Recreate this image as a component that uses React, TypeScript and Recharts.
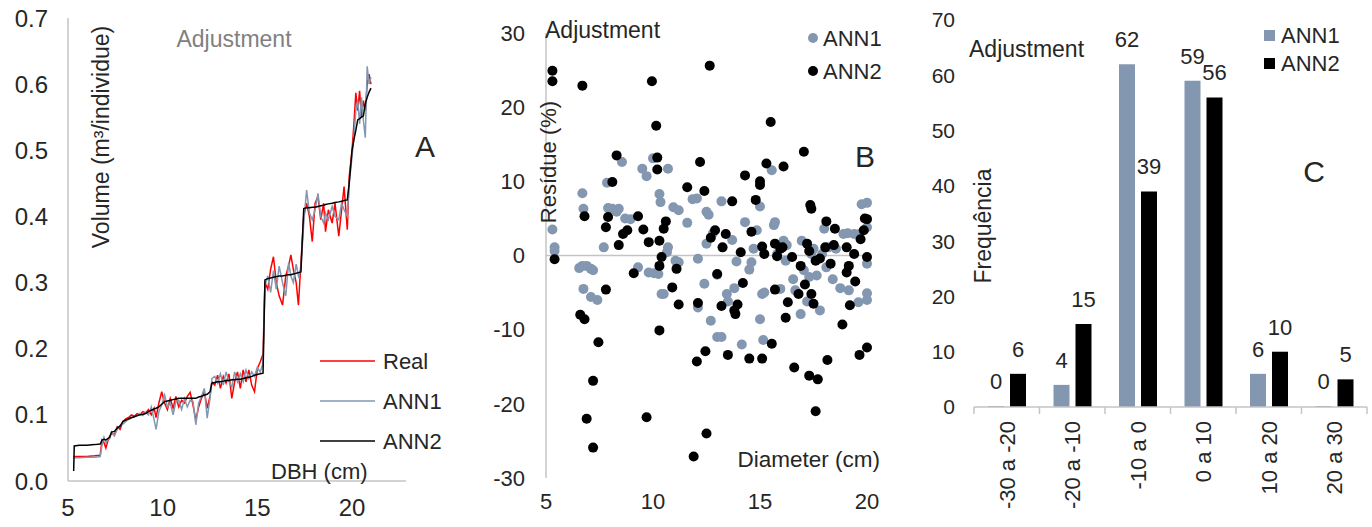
import React from 'react';
import {
  LineChart, Line, XAxis, YAxis, ScatterChart, Scatter, BarChart, Bar,
  LabelList, ReferenceLine, Legend,
} from 'recharts';

const FONT = '"Liberation Sans", Arial, sans-serif';
const GRAY = '#8497B0';
const AXIS = '#C4C4C4';
const TEXT = '#262626';

// ---------- Panel A: volume vs DBH ----------
const dbh = [5.3, 5.33, 5.6, 6.0, 6.4, 6.7, 6.8, 6.9, 7.0, 7.1, 7.2, 7.3, 7.45, 7.6, 7.75, 7.9, 8.05, 8.2, 8.35, 8.5, 8.65, 8.8, 8.95, 9.1, 9.25, 9.4, 9.55, 9.65, 9.8, 9.95, 10.1, 10.25, 10.4, 10.55, 10.7, 10.85, 11.0, 11.15, 11.3, 11.45, 11.6, 11.75, 11.9, 12.05, 12.2, 12.35, 12.5, 12.6, 12.75, 12.9, 13.05, 13.2, 13.35, 13.5, 13.65, 13.8, 13.95, 14.1, 14.25, 14.4, 14.55, 14.7, 14.85, 15.0, 15.15, 15.3, 15.4, 15.55, 15.7, 15.85, 16.0, 16.15, 16.33, 16.5, 16.65, 16.77, 16.9, 17.05, 17.17, 17.3, 17.45, 17.6, 17.75, 17.9, 18.05, 18.2, 18.35, 18.5, 18.6, 18.75, 18.95, 19.1, 19.3, 19.45, 19.58, 19.75, 19.85, 20.0, 20.1, 20.2, 20.3, 20.4, 20.5, 20.6, 20.7, 20.8, 20.9, 21.0];
const volReal = [0.036, 0.037, 0.037, 0.037, 0.038, 0.039, 0.062, 0.058, 0.050, 0.060, 0.068, 0.072, 0.070, 0.082, 0.078, 0.090, 0.094, 0.096, 0.100, 0.098, 0.102, 0.100, 0.105, 0.103, 0.108, 0.100, 0.110, 0.096, 0.118, 0.135, 0.118, 0.108, 0.125, 0.110, 0.128, 0.112, 0.122, 0.118, 0.128, 0.134, 0.115, 0.092, 0.112, 0.125, 0.135, 0.110, 0.128, 0.150, 0.145, 0.160, 0.140, 0.158, 0.148, 0.162, 0.125, 0.150, 0.165, 0.140, 0.168, 0.150, 0.168, 0.145, 0.135, 0.170, 0.180, 0.192, 0.300, 0.290, 0.320, 0.339, 0.300, 0.280, 0.266, 0.310, 0.325, 0.342, 0.320, 0.300, 0.266, 0.330, 0.400, 0.420, 0.400, 0.362, 0.420, 0.430, 0.395, 0.420, 0.377, 0.410, 0.390, 0.420, 0.370, 0.410, 0.445, 0.380, 0.460, 0.500, 0.540, 0.587, 0.560, 0.590, 0.550, 0.575, 0.560, 0.600, 0.615, 0.600];
const volAnn1 = [0.034, 0.035, 0.035, 0.036, 0.036, 0.037, 0.055, 0.066, 0.058, 0.062, 0.064, 0.074, 0.068, 0.078, 0.084, 0.086, 0.090, 0.093, 0.095, 0.097, 0.098, 0.102, 0.099, 0.104, 0.100, 0.112, 0.092, 0.078, 0.105, 0.115, 0.130, 0.112, 0.118, 0.100, 0.120, 0.122, 0.108, 0.125, 0.112, 0.122, 0.120, 0.085, 0.118, 0.128, 0.140, 0.095, 0.125, 0.155, 0.158, 0.148, 0.162, 0.145, 0.165, 0.150, 0.142, 0.165, 0.150, 0.162, 0.150, 0.168, 0.155, 0.165, 0.158, 0.172, 0.165, 0.178, 0.295, 0.310, 0.285, 0.318, 0.290, 0.325, 0.300, 0.280, 0.330, 0.310, 0.300, 0.328, 0.310, 0.320, 0.390, 0.440, 0.405, 0.395, 0.410, 0.435, 0.400, 0.390, 0.405, 0.395, 0.415, 0.400, 0.395, 0.420, 0.410, 0.400, 0.450, 0.490, 0.520, 0.560, 0.575, 0.540, 0.580, 0.545, 0.519, 0.627, 0.600, 0.610];
const volAnn2 = [0.015, 0.053, 0.054, 0.054, 0.055, 0.056, 0.062, 0.063, 0.062, 0.064, 0.066, 0.074, 0.075, 0.080, 0.083, 0.090, 0.092, 0.094, 0.096, 0.097, 0.099, 0.100, 0.101, 0.102, 0.105, 0.107, 0.109, 0.110, 0.112, 0.116, 0.120, 0.121, 0.122, 0.123, 0.124, 0.125, 0.125, 0.125, 0.125, 0.125, 0.125, 0.125, 0.127, 0.128, 0.130, 0.131, 0.135, 0.148, 0.149, 0.150, 0.150, 0.151, 0.152, 0.152, 0.153, 0.153, 0.154, 0.154, 0.155, 0.156, 0.157, 0.158, 0.160, 0.161, 0.162, 0.163, 0.304, 0.306, 0.307, 0.308, 0.309, 0.310, 0.310, 0.311, 0.312, 0.312, 0.313, 0.314, 0.315, 0.316, 0.412, 0.413, 0.413, 0.414, 0.414, 0.415, 0.416, 0.417, 0.418, 0.419, 0.420, 0.421, 0.422, 0.423, 0.424, 0.425, 0.450, 0.500, 0.516, 0.530, 0.546, 0.548, 0.550, 0.552, 0.570, 0.580, 0.588, 0.594];
const volumeTicks = [0, 0.1, 0.2, 0.3, 0.4, 0.5, 0.6, 0.7];
const dbhTicks = [5, 10, 15, 20];
const volumeSeries = [
  { key: 'real', name: 'Real', color: '#FF0000' },
  { key: 'ann1', name: 'ANN1', color: GRAY },
  { key: 'ann2', name: 'ANN2', color: '#000000' },
];

// ---------- Panel B: residues ----------
const ann1Residues = [[5.3, 3.5], [5.4, 1.1], [5.4, 0.6], [6.7, 8.4], [6.75, 6.3], [6.55, -1.7], [6.7, -1.4], [6.9, -1.4], [7.1, -1.8], [7.2, -2.0], [6.75, -4.5], [7.1, -5.6], [7.4, -6.0], [7.7, 1.1], [7.85, 9.8], [7.9, 6.4], [8.1, 6.3], [8.3, 5.9], [8.4, 6.3], [8.55, 12.6], [8.7, 5.0], [8.95, 4.9], [9.3, -1.6], [9.5, 11.7], [9.7, 10.7], [9.8, -2.3], [10.0, 13.1], [10.05, -2.4], [10.25, -2.5], [10.3, 8.3], [10.35, 7.2], [10.4, -5.2], [10.5, -5.2], [10.65, 0.45], [10.7, 1.1], [10.7, 11.7], [10.95, 6.5], [11.2, 6.1], [11.05, -0.7], [11.2, -0.9], [11.6, 4.4], [11.85, 7.6], [12.05, 7.7], [12.1, -0.45], [12.1, -7.0], [12.4, -3.8], [12.5, 5.9], [12.6, 5.5], [12.5, 1.6], [12.7, -8.8], [12.8, 3.0], [13.0, -2.6], [13.0, -11.0], [13.2, -11.0], [13.2, 7.3], [13.45, -5.2], [13.5, -6.2], [13.7, 2.1], [13.8, -4.4], [13.9, -0.8], [14.15, -12.0], [14.3, 4.5], [14.5, -1.9], [14.6, -0.9], [14.7, 0.9], [14.85, 3.4], [15.0, 6.6], [15.0, -8.6], [15.1, -5.2], [15.15, -11.4], [15.2, -5.0], [15.55, 11.5], [15.65, 4.1], [15.7, 4.5], [15.8, 0.2], [15.95, -4.5], [16.1, 2.0], [16.2, -0.7], [16.25, 1.4], [16.55, -3.2], [16.65, -4.7], [16.9, -7.9], [16.95, 2.0], [17.05, -2.0], [17.2, -6.2], [17.3, -2.9], [17.4, 0.2], [17.5, 0.9], [17.65, -2.7], [17.8, -7.4], [17.9, 0.2], [18.0, 3.6], [18.1, -1.6], [18.2, 1.1], [18.4, -3.2], [18.55, 0.9], [18.75, -4.4], [18.9, 2.9], [19.1, 3.0], [19.15, -4.7], [19.4, 2.9], [19.6, -6.3], [19.65, 2.9], [19.75, 6.9], [20.0, 7.1], [20.0, -5.1], [20.0, -6.0], [20.0, -1.1], [20.0, 3.8]];
const ann2Residues = [[5.3, 24.9], [5.3, 23.5], [5.4, -0.5], [6.7, 22.9], [6.8, 5.3], [6.6, -8.0], [6.8, -8.6], [6.9, -22.0], [7.2, -25.9], [7.2, -16.9], [7.45, -11.7], [7.8, -4.6], [7.8, 3.8], [7.9, 5.2], [8.1, 9.9], [8.3, 13.5], [8.4, 1.4], [8.6, 2.9], [8.8, 3.4], [9.1, -2.4], [9.3, 5.3], [9.55, 3.5], [9.8, 1.8], [9.95, 23.5], [9.7, -21.8], [10.15, 17.5], [10.2, 13.2], [10.2, 11.6], [10.3, 2.0], [10.4, -0.2], [10.3, -1.4], [10.3, -10.1], [10.5, 3.6], [10.6, 4.6], [10.9, -4.3], [11.1, -1.8], [11.2, -6.6], [11.6, 9.2], [12.05, -14.3], [12.1, -6.4], [12.2, 12.6], [12.4, 8.7], [12.45, -12.9], [12.5, -24.0], [11.9, -27.1], [12.65, 25.6], [12.7, 2.4], [12.9, 3.4], [13.0, -2.5], [13.2, -6.8], [13.25, 1.1], [13.4, 2.9], [13.5, -13.4], [13.7, 7.3], [13.8, -7.4], [13.85, -7.9], [13.95, -6.6], [14.1, 0.45], [14.2, -3.7], [14.3, 10.8], [14.5, -13.9], [14.6, 3.2], [14.8, 7.5], [15.0, 10.0], [15.0, 9.5], [15.1, -13.9], [15.1, 1.2], [15.2, 0.2], [15.3, 12.4], [15.5, 18.0], [15.55, -11.9], [15.7, -4.6], [15.7, 1.6], [15.8, -0.1], [15.95, 0.9], [16.05, 1.1], [16.1, 12.0], [16.2, -8.4], [16.3, -6.3], [16.5, -0.2], [16.6, -15.1], [16.8, -5.2], [16.9, -1.4], [17.05, 14.0], [17.1, -3.9], [17.2, 1.6], [17.3, 0.6], [17.3, -16.2], [17.35, 6.8], [17.4, 6.3], [17.4, -5.2], [17.5, -6.5], [17.6, -21.0], [17.6, -0.7], [17.7, -16.7], [17.8, -0.4], [18.05, 1.1], [18.1, 4.6], [18.15, -14.1], [18.3, -1.1], [18.45, 1.4], [18.5, 3.6], [18.85, -9.3], [19.05, 1.1], [19.05, -2.3], [19.15, -1.4], [19.2, -6.7], [19.4, 0.2], [19.45, -3.5], [19.65, -13.4], [19.7, 2.2], [19.85, 3.4], [19.9, 5.0], [20.0, -12.4], [20.0, -0.2], [20.0, 4.9]];
const residueTicks = [-30, -20, -10, 0, 10, 20, 30];
const diameterTicks = [5, 10, 15, 20];

// ---------- Panel C: frequency ----------
const residueClasses = ['-30 a -20', '-20 a -10', '-10 a 0', '0 a 10', '10 a 20', '20 a 30'];
const freqAnn1 = [0, 4, 62, 59, 6, 0];
const freqAnn2 = [6, 15, 39, 56, 10, 5];
const freqTicks = [0, 10, 20, 30, 40, 50, 60, 70];

const volumeRows = dbh.map((d, i) => ({ dbh: d, real: volReal[i], ann1: volAnn1[i], ann2: volAnn2[i] }));
const ann1Pts = ann1Residues.map(([x, y]) => ({ x, y }));
const ann2Pts = ann2Residues.map(([x, y]) => ({ x, y }));
const classRows = residueClasses.map((c, i) => ({ cls: c, ann1: freqAnn1[i], ann2: freqAnn2[i] }));

const tickStyle = (size: number) => ({ fill: TEXT, fontSize: size, fontFamily: FONT });

const VolumeLegend = () => (
  <svg width={110} height={110} style={{ display: 'block', overflow: 'visible' }}>
    {volumeSeries.map((s, i) => (
      <g key={s.key}>
        <line x1={0} x2={55} y1={13 + i * 40} y2={13 + i * 40} stroke={s.color} strokeWidth={1.6} />
        <text x={63} y={13 + i * 40} dy="0.36em" fontSize={22} fontFamily={FONT} fill={TEXT}>{s.name}</text>
      </g>
    ))}
  </svg>
);

const ResidueLegend = () => (
  <svg width={80} height={66} style={{ display: 'block', overflow: 'visible' }}>
    {[{ n: 'ANN1', c: GRAY }, { n: 'ANN2', c: '#000' }].map((s, i) => (
      <g key={s.n}>
        <circle cx={8} cy={16 + i * 33} r={5} fill={s.c} />
        <text x={18} y={16 + i * 33} dy="0.36em" fontSize={22} fontFamily={FONT} fill={TEXT}>{s.n}</text>
      </g>
    ))}
  </svg>
);

const FreqLegend = () => (
  <svg width={100} height={60} style={{ display: 'block', overflow: 'visible' }}>
    {[{ n: 'ANN1', c: GRAY }, { n: 'ANN2', c: '#000' }].map((s, i) => (
      <g key={s.n}>
        <rect x={4} y={10 + i * 28} width={11} height={11} fill={s.c} />
        <text x={21} y={15.5 + i * 28} dy="0.36em" fontSize={22} fontFamily={FONT} fill={TEXT}>{s.n}</text>
      </g>
    ))}
  </svg>
);

const ClassTick = (props: any) => {
  const { x, y, payload, index } = props;
  const half = payload && payload.offset ? payload.offset : 32.75;
  const last = index === residueClasses.length - 1;
  return (
    <g>
      <line x1={x - half} x2={x - half} y1={y} y2={y + 7} stroke={AXIS} strokeWidth={1.5} />
      {last && <line x1={x + half} x2={x + half} y1={y} y2={y + 7} stroke={AXIS} strokeWidth={1.5} />}
      <text x={x} y={y + 14} dy="0.36em" textAnchor="end" transform={`rotate(-90, ${x}, ${y + 14})`}
        fontSize={22} fontFamily={FONT} fill={TEXT}>{payload.value}</text>
    </g>
  );
};

const dot = (color: string) => (p: any) => <circle cx={p.cx} cy={p.cy} r={5} fill={color} />;

const Annot = ({ x, y, size = 23, anchor = 'start', color = TEXT, rotate = false, children }: any) => (
  <text x={x} y={y} dy={`${0.358}em`} fontSize={size} fontFamily={FONT} fill={color} textAnchor={anchor}
    transform={rotate ? `rotate(-90, ${x}, ${y})` : undefined}>{children}</text>
);

export default function App() {
  return (
    <div style={{ position: 'absolute', left: 0, top: 0, width: 1372, height: 527, background: '#fff', overflow: 'hidden' }}>
      {/* Panel A */}
      <div style={{ position: 'absolute', left: 0, top: 0 }}>
        <LineChart width={460} height={527} data={volumeRows} margin={{ top: 18, right: 54, bottom: 16, left: 8 }}>
          <XAxis type="number" dataKey="dbh" domain={[5, 22.85]} ticks={dbhTicks} interval={0}
            axisLine={{ stroke: AXIS, strokeWidth: 1.5 }} tickLine={false} tickSize={0} tickMargin={18} height={30}
            tick={tickStyle(24)} />
          <YAxis type="number" domain={[0, 0.7]} ticks={volumeTicks} interval={0} width={60}
            tickFormatter={(v: number) => v.toFixed(1)}
            axisLine={{ stroke: AXIS, strokeWidth: 1.5 }} tickLine={false} tickSize={0} tickMargin={20}
            tick={tickStyle(24)} />
          {volumeSeries.map((s) => (
            <Line key={s.key} type="linear" dataKey={s.key} name={s.name} stroke={s.color} strokeWidth={1.5}
              dot={false} isAnimationActive={false} />
          ))}
          <Legend layout="vertical" align="center" verticalAlign="middle" content={<VolumeLegend />}
            wrapperStyle={{ left: 320, top: 348, width: 130, height: 110 }} />
        </LineChart>
      </div>

      {/* Panel B */}
      <div style={{ position: 'absolute', left: 460, top: 0 }}>
        <ScatterChart width={420} height={527} margin={{ top: 33, right: 13, bottom: 19, left: 26 }}>
          <XAxis type="number" dataKey="x" domain={[5, 20]} ticks={diameterTicks} interval={0}
            axisLine={false} tickLine={false} tickSize={0} tickMargin={15} height={30} tick={tickStyle(22)} />
          <YAxis type="number" dataKey="y" domain={[-30, 30]} ticks={residueTicks} interval={0} width={60}
            axisLine={{ stroke: AXIS, strokeWidth: 1.5 }} tickLine={false} tickSize={0} tickMargin={21}
            tick={tickStyle(22)} />
          <ReferenceLine y={0} stroke={AXIS} strokeWidth={1.5} />
          <Scatter name="ANN1" data={ann1Pts} fill={GRAY} shape={dot(GRAY)} isAnimationActive={false} />
          <Scatter name="ANN2" data={ann2Pts} fill="#000" shape={dot('#000')} isAnimationActive={false} />
          <Legend layout="vertical" align="center" verticalAlign="middle" content={<ResidueLegend />}
            wrapperStyle={{ left: 345, top: 22, width: 80, height: 66 }} />
        </ScatterChart>
      </div>

      {/* Panel C */}
      <div style={{ position: 'absolute', left: 920, top: 0 }}>
        <BarChart width={452} height={527} data={classRows} margin={{ top: 20, right: 5, bottom: 10, left: 4 }} barGap={6}>
          <XAxis dataKey="cls" interval={0} height={110} axisLine={{ stroke: AXIS, strokeWidth: 1.5 }}
            tickLine={false} tickSize={0} tickMargin={0} tick={<ClassTick />} />
          <YAxis type="number" domain={[0, 70]} ticks={freqTicks} interval={0} width={50}
            axisLine={false} tickLine={false} tickSize={0} tickMargin={19} tick={tickStyle(21)} />
          <Bar dataKey="ann1" name="ANN1" fill={GRAY} barSize={16} minPointSize={1} isAnimationActive={false}>
            <LabelList dataKey="ann1" position="top" offset={17} fill={TEXT} fontSize={22} fontFamily={FONT} />
          </Bar>
          <Bar dataKey="ann2" name="ANN2" fill="#000" barSize={16} minPointSize={1} isAnimationActive={false}>
            <LabelList dataKey="ann2" position="top" offset={17} fill={TEXT} fontSize={22} fontFamily={FONT} />
          </Bar>
          <Legend layout="vertical" align="center" verticalAlign="middle" content={<FreqLegend />}
            wrapperStyle={{ left: 340, top: 20, width: 100, height: 60 }} />
        </BarChart>
      </div>

      {/* Annotations */}
      <svg width={1372} height={527} style={{ position: 'absolute', left: 0, top: 0, pointerEvents: 'none' }}>
        <Annot x={234} y={39} anchor="middle" color="#808080">Adjustment</Annot>
        <Annot x={101} y={137} anchor="middle" rotate>Volume (m³/individue)</Annot>
        <Annot x={425} y={146} anchor="middle" size={30}>A</Annot>
        <Annot x={271} y={471} size={22}>DBH (cm)</Annot>

        <Annot x={545} y={30} >Adjustment</Annot>
        <Annot x={548} y={162} anchor="middle" size={22} rotate>Resídue (%)</Annot>
        <Annot x={865} y={156} anchor="middle" size={30}>B</Annot>
        <Annot x={880} y={459} anchor="end" size={22.5}>Diameter (cm)</Annot>

        <Annot x={969} y={49}>Adjustment</Annot>
        <Annot x={983} y={226} anchor="middle" rotate>Frequência</Annot>
        <Annot x={1314} y={171} anchor="middle" size={30}>C</Annot>
      </svg>
    </div>
  );
}
